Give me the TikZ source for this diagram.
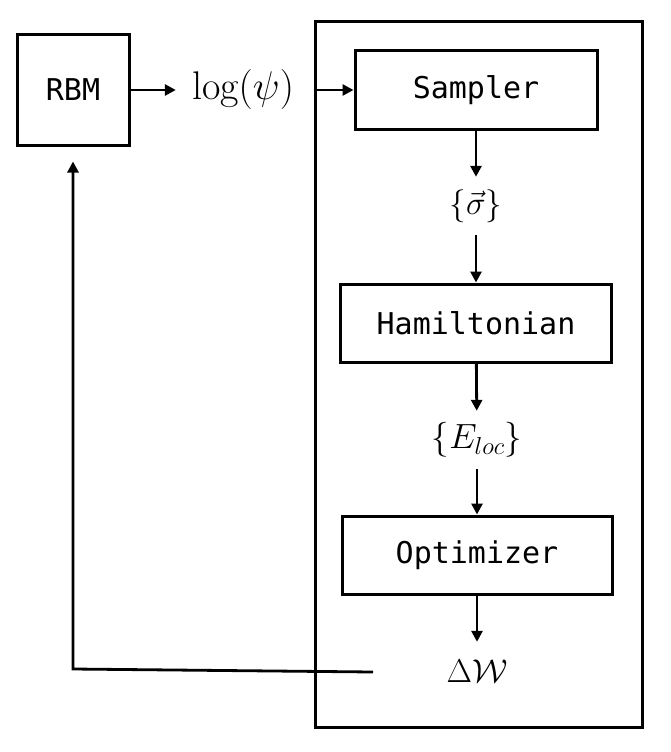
\RequirePackage{fix-cm}
\documentclass[tikz,border=0pt]{standalone}
\usepackage{fontspec}
\setmonofont{DejaVu Sans Mono}
\usetikzlibrary{arrows.meta}
\begin{document}
\begin{tikzpicture}[x=1pt,y=-1pt,
  box/.style={draw, line width=3pt, inner sep=0pt, font=\ttfamily\fontsize{30}{36}\selectfont},
  lbl/.style={inner sep=0pt, minimum height=58pt, font=\fontsize{33}{40}\selectfont},
  arr/.style={line width=2.8pt, -{Triangle[length=11pt,width=11pt]}}]
\useasboundingbox (0,0) rectangle (671,752);
\node[box, minimum width=112pt, minimum height=110pt] (rbm) at (73,90) {RBM};
\node[lbl, minimum width=134pt, font=\fontsize{40}{48}\selectfont] (log) at (243,90) {$\log(\psi)$};
\node[draw, line width=3pt, minimum width=327pt, minimum height=705pt, inner sep=0pt] (outer) at (478.5,374.5) {};
\node[box, minimum width=242pt, minimum height=78pt] (sampler) at (476,90) {Sampler};
\node[lbl] (sigma) at (476,206) {$\{\vec{\sigma}\}$};
\node[box, minimum width=271pt, minimum height=78pt] (ham) at (476,323) {Hamiltonian};
\node[lbl, font=\fontsize{35}{42}\selectfont] (eloc) at (477,440) {$\{E_{loc}\}$};
\node[box, minimum width=270pt, minimum height=78pt] (opt) at (477,555) {Optimizer};
\node[lbl] (dw) at (477,671) {$\Delta\mathcal{W}$};
\coordinate (fb) at (373,672);
\coordinate (corner) at (73,669);
\draw[arr] (rbm.east) -- (log.west);
\draw[arr] (outer.west |- sampler.west) -- (sampler.west);
\draw[arr] (sampler) -- (sigma);
\draw[arr] (sigma) -- (ham);
\draw[arr] (ham) -- (eloc);
\draw[arr] (eloc) -- (opt);
\draw[arr] (opt) -- (dw);
\draw[arr, shorten >=15pt] (fb) -- (corner) -- (rbm.south);
\end{tikzpicture}
\end{document}
